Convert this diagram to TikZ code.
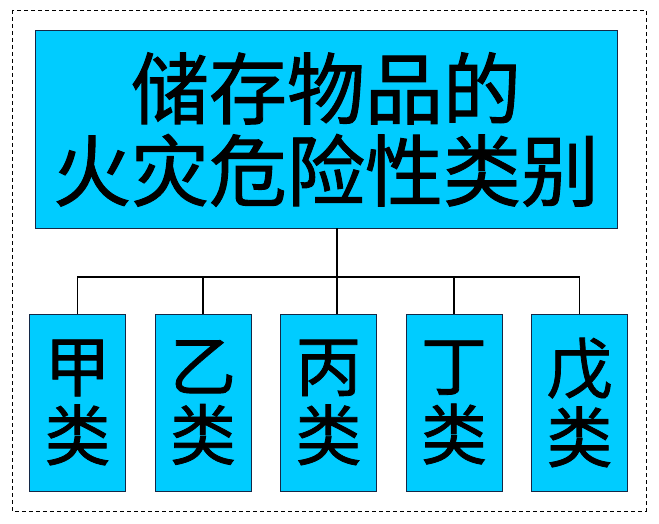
\documentclass[tikz,border=0pt]{standalone}
\usepackage{fontspec}
\newfontfamily\cjk[FakeBold=1.2]{Noto Sans CJK SC}
\usetikzlibrary{positioning}
\definecolor{boxcyan}{RGB}{0,204,255}
\definecolor{boxedge}{RGB}{20,40,70}

\begin{document}
\begin{tikzpicture}[x=1pt,y=-1pt,node distance=29.5pt,
    title/.style={draw=boxedge,line width=1pt,fill=boxcyan,minimum width=582pt,minimum height=197pt,
                  inner sep=0pt,outer sep=0pt,align=center,font=\cjk\fontsize{78}{82}\selectfont},
    kind/.style={draw=boxedge,line width=1pt,fill=boxcyan,minimum width=96pt,minimum height=177pt,
                 inner sep=0pt,outer sep=0pt,align=center,font=\cjk\fontsize{66}{69}\selectfont},
    wire/.style={line width=1.6pt,black}]
  \useasboundingbox (0,0) rectangle (659,524);
  \draw[line width=0.9pt,dash pattern=on 4pt off 3pt] (12,10) rectangle (646,511);

  \node[title] (top) at (326,129.5) {储存物品的\\火灾危险性类别};
  \node[kind]  (b1)  at (77.5,402.5) {甲\\类};
  \node[kind]  (b2)  [right=of b1]   {乙\\类};
  \node[kind]  (b3)  [right=of b2]   {丙\\类};
  \node[kind]  (b4)  [right=of b3]   {丁\\类};
  \node[kind]  (b5)  [right=of b4]   {戊\\类};

  \coordinate (hub) at (337,277);
  \draw[wire] (top.south -| hub) -- (hub) -- (b3.north -| hub);
  \draw[wire] (b1.north) |- (hub) -| (b5.north);
  \draw[wire] (b2.north) -- (b2.north |- hub);
  \draw[wire] (b4.north) -- (b4.north |- hub);
\end{tikzpicture}
\end{document}
